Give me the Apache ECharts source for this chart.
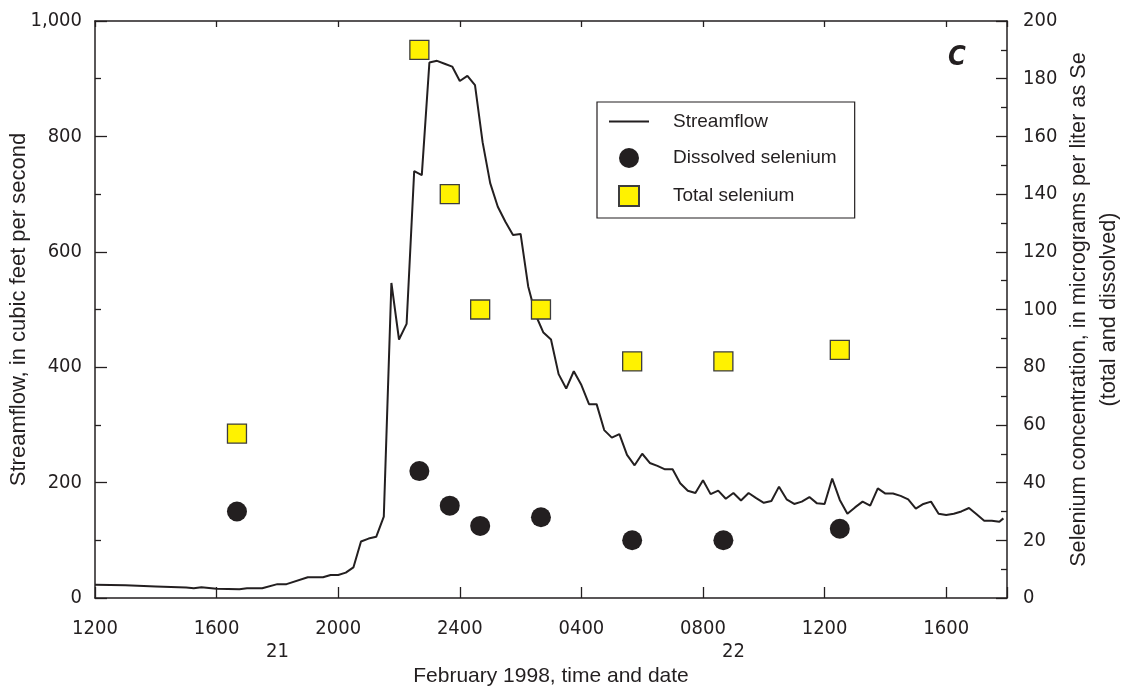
<!DOCTYPE html>
<html>
<head>
<meta charset="utf-8">
<title>Streamflow and selenium, February 1998</title>
<script src="https://cdn.jsdelivr.net/npm/echarts@6/dist/echarts.min.js"></script>
<style>
  html, body { margin: 0; padding: 0; background: #ffffff; }
  #chart { width: 1123px; height: 691px; }
</style>
</head>
<body>
<div id="chart"></div>
<script>
// Hours elapsed since 1200 on February 21, 1998
const flowHours = [
  0, 1, 2, 3, 3.25, 3.5, 4, 4.75, 5, 5.5, 6, 6.3, 7, 7.5, 7.75, 8, 8.25, 8.5,
  8.75, 9, 9.25, 9.5, 9.75, 10, 10.25, 10.5, 10.75, 11, 11.25, 11.5, 11.75, 12,
  12.25, 12.5, 12.75, 13, 13.25, 13.5, 13.75, 14, 14.25, 14.5, 14.75, 15, 15.25,
  15.5, 15.75, 16, 16.25, 16.5, 16.75, 17, 17.25, 17.5, 17.75, 18, 18.25, 18.5,
  18.75, 19, 19.25, 19.5, 19.75, 20, 20.25, 20.5, 20.75, 21, 21.25, 21.5, 21.75,
  22, 22.25, 22.5, 22.75, 23, 23.25, 23.5, 23.75, 24, 24.25, 24.5, 24.75, 25,
  25.25, 25.5, 25.75, 26, 26.25, 26.5, 26.75, 27, 27.25, 27.5, 27.75, 28, 28.25,
  28.5, 28.75, 29, 29.25, 29.5, 29.75, 29.88
];
// Streamflow, cubic feet per second
const flowCfs = [
  23, 22, 20, 18, 17, 18.5, 16, 15, 17, 17, 24, 24, 36, 36, 40, 40, 44, 53,
  98, 103, 106, 141, 546, 448, 475, 740, 733, 928, 931, 926, 921, 896,
  905, 889, 790, 719, 678, 652, 629, 631, 540, 490, 460, 448, 388,
  363, 393, 369, 336, 336, 291, 278, 284, 248, 230, 250, 234, 229,
  223, 223, 199, 186, 182, 204, 180, 186, 172, 182, 169, 182, 173,
  165, 168, 193, 171, 163, 167, 175, 164, 163, 207, 170, 146, 157,
  167, 160, 190, 181, 181, 177, 171, 155, 163, 167, 146, 144, 146,
  150, 156, 145, 134, 134, 132, 138
];

// Sampling times (hours since 1200, Feb 21) and selenium, micrograms per liter
const sampleHours = [4.67, 10.67, 11.67, 12.67, 14.67, 17.67, 20.67, 24.5];
const dissolvedSe = [30, 44, 32, 25, 28, 20, 20, 24];
const totalSe     = [57, 190, 140, 100, 100, 82, 82, 86];

// Axis tick labels (every 4 hours) and the day-of-month labels beneath them
const timeTickLabels = ['1200', '1600', '2000', '2400', '0400', '0800', '1200', '1600'];
const dayLabels = ['21', '22'];
const dayLabelHours = [6, 21];

const INK = '#231f20';
const NUM_FONT = "'Liberation Sans Narrow', 'DejaVu Sans Condensed', sans-serif";
const TXT_FONT = "'Liberation Sans', Arial, sans-serif";

const chart = echarts.init(document.getElementById('chart'), null, { renderer: 'canvas' });

const axisLine = { show: true, onZero: false, lineStyle: { color: INK, width: 1.5 } };
const tickStyle = { color: INK, width: 1.3 };

const option = {
  backgroundColor: '#ffffff',
  animation: false,
  grid: { left: 95, right: 116, top: 21, bottom: 93, containLabel: false, outerBoundsMode: 'none' },
  legend: {
    orient: 'vertical',
    left: 597,
    top: 102,
    padding: [10, 18, 11, 12],
    itemWidth: 40,
    itemHeight: 20,
    itemGap: 17,
    borderColor: INK,
    borderWidth: 1.2,
    backgroundColor: '#ffffff',
    textStyle: { color: INK, fontFamily: TXT_FONT, fontSize: 19, padding: [0, 0, 0, 19] },
    data: [
      { name: 'Streamflow', icon: 'path://M0,0L40,0L40,1.8L0,1.8Z' },
      { name: 'Dissolved selenium', icon: 'circle' },
      { name: 'Total selenium', icon: 'path://M0,0L10,0L10,10L0,10Z' }
    ]
  },
  xAxis: [
    {
      type: 'value', min: 0, max: 30, interval: 4, position: 'bottom',
      axisLine: axisLine,
      axisTick: { show: true, inside: true, length: 11, lineStyle: tickStyle },
      splitLine: { show: false },
      axisLabel: {
        color: INK, fontFamily: NUM_FONT, fontSize: 20, margin: 21,
        formatter: function (v) {
          const i = Math.round(v / 4);
          return (v % 4 === 0 && i < timeTickLabels.length) ? timeTickLabels[i] : '';
        }
      },
      name: 'February 1998, time and date',
      nameLocation: 'middle',
      nameMoveOverlap: false,
      nameGap: 68,
      nameTextStyle: { color: INK, fontFamily: TXT_FONT, fontSize: 21 }
    },
    {
      type: 'value', min: 0, max: 30, interval: 4, position: 'top',
      axisLine: axisLine,
      axisTick: { show: true, inside: true, length: 6, lineStyle: tickStyle },
      axisLabel: { show: false },
      splitLine: { show: false }
    }
  ],
  yAxis: [
    {
      type: 'value', min: 0, max: 1000, interval: 200, position: 'left',
      axisLine: axisLine,
      axisTick: { show: true, inside: true, length: 12, lineStyle: tickStyle },
      minorTick: { show: true, splitNumber: 2, length: 6, lineStyle: tickStyle },
      splitLine: { show: false },
      axisLabel: {
        color: INK, fontFamily: NUM_FONT, fontSize: 20, margin: 13,
        formatter: function (v) { return v.toLocaleString('en-US'); }
      },
      name: 'Streamflow, in cubic feet per second',
      nameLocation: 'middle',
      nameMoveOverlap: false,
      nameRotate: 90,
      nameGap: 65,
      nameTextStyle: { color: INK, fontFamily: TXT_FONT, fontSize: 22 }
    },
    {
      type: 'value', min: 0, max: 200, interval: 20, position: 'right',
      axisLine: axisLine,
      axisTick: { show: true, inside: true, length: 11, lineStyle: tickStyle },
      minorTick: { show: true, splitNumber: 2, length: 6, lineStyle: tickStyle },
      splitLine: { show: false },
      axisLabel: { color: INK, fontFamily: NUM_FONT, fontSize: 20, margin: 16 },
      name: 'Selenium concentration, in micrograms per liter as Se\n(total and dissolved)',
      nameLocation: 'middle',
      nameMoveOverlap: false,
      nameRotate: 90,
      nameGap: 57,
      nameTextStyle: { color: INK, fontFamily: TXT_FONT, fontSize: 21.7, lineHeight: 30, align: 'center' }
    }
  ],
  series: [
    {
      name: 'Streamflow',
      type: 'line',
      xAxisIndex: 0, yAxisIndex: 0,
      symbol: 'none',
      lineStyle: { color: INK, width: 2 },
      itemStyle: { color: INK },
      data: flowHours.map((h, i) => [h, flowCfs[i]]),
      z: 2
    },
    {
      name: 'Dissolved selenium',
      type: 'scatter',
      xAxisIndex: 0, yAxisIndex: 1,
      symbol: 'circle',
      symbolSize: 20,
      itemStyle: { color: INK, opacity: 1 },
      data: sampleHours.map((h, i) => [h, dissolvedSe[i]]),
      z: 3
    },
    {
      name: 'Total selenium',
      type: 'scatter',
      xAxisIndex: 0, yAxisIndex: 1,
      symbol: 'rect',
      symbolSize: 19,
      itemStyle: { color: '#fff200', borderColor: '#3d3d3d', borderWidth: 1.3, opacity: 1 },
      data: sampleHours.map((h, i) => [h, totalSe[i]]),
      z: 3
    }
  ]
};

chart.setOption(option);

// Panel letter and day labels under the time axis
const yDay = chart.convertToPixel({ yAxisIndex: 0 }, 0) + 54;
const graphics = dayLabels.map((t, i) => ({
  type: 'text',
  x: chart.convertToPixel({ xAxisIndex: 0 }, dayLabelHours[i]),
  y: yDay,
  style: { text: t, fill: INK, font: '20px ' + NUM_FONT, align: 'center', verticalAlign: 'middle' }
}));
graphics.push({
  type: 'text',
  x: 957,
  y: 58,
  style: { text: 'C', fill: INK, font: 'italic bold 27px ' + NUM_FONT, align: 'center', verticalAlign: 'middle' }
});
chart.setOption({ graphic: graphics });
</script>
</body>
</html>
